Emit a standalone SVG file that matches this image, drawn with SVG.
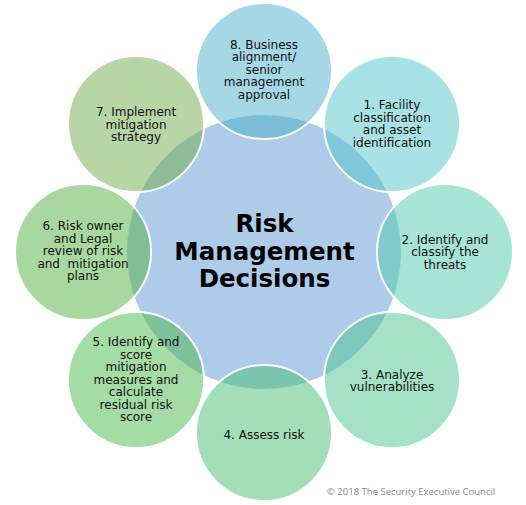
<svg xmlns="http://www.w3.org/2000/svg" width="526" height="505" viewBox="0 0 526 505">
<style>
.c{stroke:#fff;stroke-width:2;fill-opacity:0.5}
.t{font-family:"DejaVu Sans",Verdana,sans-serif;font-size:12px;fill:#111;text-anchor:middle}
.h{font-family:"DejaVu Sans",Verdana,sans-serif;font-size:24.5px;font-weight:bold;fill:#000;text-anchor:middle}
.cp{font-family:"Open Sans","Liberation Sans",sans-serif;font-size:9.5px;fill:#8a8a8a}
</style>
<rect width="526" height="505" fill="#fff"/>
<g id="center">
<circle cx="264" cy="252" r="137" fill="#aecbe9"/>
</g>
<g id="connectors"></g>
<g id="n8"><circle class="c" cx="264" cy="71" r="68" fill="#4dafcb"/>
<text class="t"><tspan x="264" y="48.5">8. Business</tspan><tspan x="264" y="61">alignment/</tspan><tspan x="264" y="73.5">senior</tspan><tspan x="264" y="86">management</tspan><tspan x="264" y="98.5">approval</tspan></text></g>
<g id="n1"><circle class="c" cx="392" cy="124" r="68" fill="#51c5c9"/>
<text class="t"><tspan x="392" y="109">1. Facility</tspan><tspan x="392" y="121.5">classification</tspan><tspan x="392" y="134">and asset</tspan><tspan x="392" y="146.5">identification</tspan></text></g>
<g id="n2"><circle class="c" cx="445" cy="252" r="68" fill="#51c9ad"/>
<text class="t"><tspan x="445" y="243.5">2. Identify and</tspan><tspan x="445" y="256">classify the</tspan><tspan x="445" y="268.5">threats</tspan></text></g>
<g id="n3"><circle class="c" cx="392" cy="380" r="68" fill="#4bc38f"/>
<text class="t"><tspan x="392" y="378.5">3. Analyze</tspan><tspan x="392" y="391">vulnerabilities</tspan></text></g>
<g id="n4"><circle class="c" cx="264" cy="433" r="68" fill="#47bd71"/>
<text class="t" x="264" y="439">4. Assess risk</text></g>
<g id="n5"><circle class="c" cx="136" cy="380" r="68" fill="#4bb74b"/>
<text class="t"><tspan x="136" y="346">5. Identify and</tspan><tspan x="136" y="358.5">score</tspan><tspan x="136" y="371">mitigation</tspan><tspan x="136" y="383.5">measures and</tspan><tspan x="136" y="396">calculate</tspan><tspan x="136" y="408.5">residual risk</tspan><tspan x="136" y="421">score</tspan></text></g>
<g id="n6"><circle class="c" cx="83" cy="252" r="68" fill="#51b141"/>
<text class="t" xml:space="preserve"><tspan x="83" y="230">6. Risk owner</tspan><tspan x="83" y="242.5">and Legal</tspan><tspan x="83" y="255">review of risk</tspan><tspan x="83" y="267.5">and  mitigation</tspan><tspan x="83" y="280">plans</tspan></text></g>
<g id="n7"><circle class="c" cx="136" cy="124" r="68" fill="#6fab4b"/>
<text class="t"><tspan x="136" y="116">7. Implement</tspan><tspan x="136" y="128.5">mitigation</tspan><tspan x="136" y="141">strategy</tspan></text></g>
<g id="title">
<text class="h"><tspan x="264.5" y="232">Risk</tspan><tspan x="264.5" y="259.5">Management</tspan><tspan x="264.5" y="287">Decisions</tspan></text>
</g>
<text class="cp" x="327" y="495">© 2018 The Security Executive Council</text>
</svg>
